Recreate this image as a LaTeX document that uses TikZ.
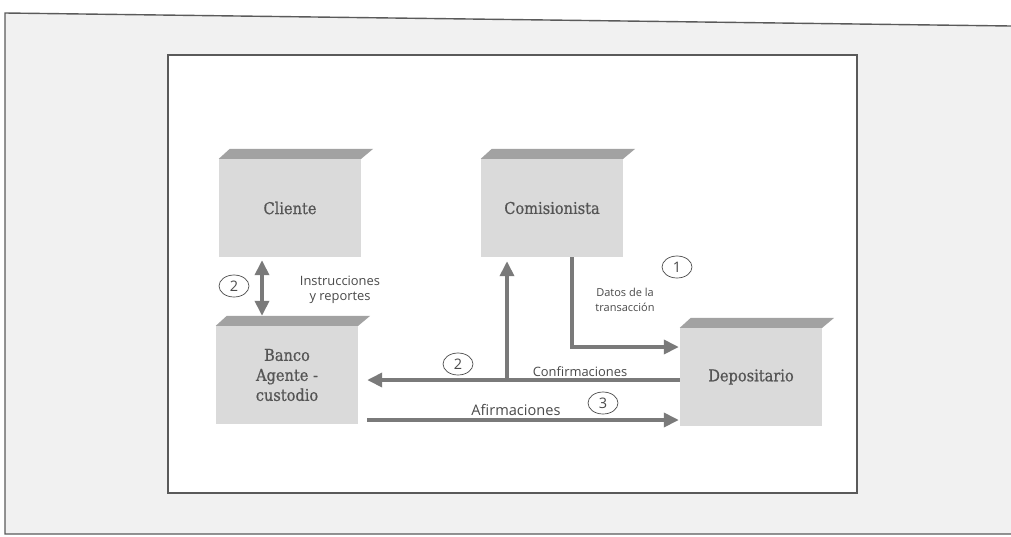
\documentclass[tikz,border=0pt]{standalone}
\usepackage{fontspec}
\setmainfont{Open Sans}
\newfontfamily\boxfont[FakeBold=0.8]{DejaVu Serif Condensed}
\usetikzlibrary{arrows.meta,shapes.geometric,calc}

\definecolor{framecol}{HTML}{5A5A5A}
\definecolor{arrowcol}{HTML}{7A7A7A}
\definecolor{facecol}{HTML}{DADADA}
\definecolor{topcol}{HTML}{A2A2A2}
\definecolor{labelcol}{HTML}{555555}
\definecolor{textcol}{HTML}{4A4A4A}
\definecolor{pagecol}{HTML}{F1F1F1}

\tikzset{
  block/.style={fill=facecol, draw=none, inner sep=0pt,
    minimum width=142pt, minimum height=98pt,
    font=\boxfont\fontsize{16.2}{20}\selectfont, text=labelcol, align=center},
  flow/.style={draw=arrowcol, line width=3.6pt,
    -{Triangle[length=15pt,width=14pt]}},
  twoway/.style={draw=arrowcol, line width=3.6pt,
    {Triangle[length=15pt,width=14pt]}-{Triangle[length=15pt,width=14pt]}},
  note/.style={font=\fontsize{12.9}{15}\selectfont, text=textcol, align=center, inner sep=1pt},
  stepnum/.style={ellipse, draw=textcol, line width=0.7pt, minimum width=30pt,
    minimum height=22pt, inner sep=0pt, font=\fontsize{14.5}{14.5}\selectfont, text=textcol}
}

% raised top face of a block
\newcommand{\blocktop}[1]{%
  \fill[topcol] (#1.north west) -- ++(11,-10) -- ($(#1.north east)+(12,-10)$) -- (#1.north east) -- cycle;}

\begin{document}
\begin{tikzpicture}[x=1pt,y=-1pt]
  \useasboundingbox (0,0) rectangle (1011,536);

  % outer page frame
  \fill[pagecol] (5,13) -- (1011,26) -- (1011,534) -- (5,534) -- cycle;
  \draw[framecol, line width=1.4pt] (1011,26) -- (5,13) -- (5,534) -- (1011,534);

  % inner panel
  \draw[framecol, line width=2pt, fill=white] (168,55) rectangle (857,493);

  % blocks
  \node[block] (cli) at (290,208) {Cliente};
  \node[block] (com) at (552,208) {Comisionista};
  \node[block] (ban) at (287,375) {Banco\\Agente -\\custodio};
  \node[block] (dep) at (751,377) {Depositario};
  \blocktop{cli}
  \blocktop{com}
  \blocktop{ban}
  \blocktop{dep}

  % line heights of the horizontal flows
  \coordinate (yconf) at (0,380);
  \coordinate (yafir) at (0,420);
  \coordinate (ydat) at (0,347);
  \coordinate (junc) at (507,380);

  % Cliente <-> Banco
  \draw[twoway] ([xshift=-28pt,yshift=-3pt]cli.south) -- ([xshift=-25pt,yshift=10pt]ban.north);

  % Comisionista -> Depositario (datos de la transacción)
  \draw[flow] ([xshift=20pt]com.south) |- ([xshift=-1pt]dep.west |- ydat);

  % Depositario -> Banco (confirmaciones), branch up to Comisionista
  \draw[flow] (dep.west |- yconf) -- ([xshift=9pt]ban.east |- yconf);
  \draw[flow] (junc) -- ([yshift=-4pt]com.south -| junc);

  % Banco -> Depositario (afirmaciones)
  \draw[flow] ([xshift=9pt]ban.east |- yafir) -- ([xshift=-1pt]dep.west |- yafir);

  % labels
  \node[stepnum] (n2a) at (234,286) {2};
  \node[note] (tins) at (340,290) {Instrucciones\\y reportes};
  \node[stepnum] (n1) at (677,267) {1};
  \node[note, font=\fontsize{11}{15}\selectfont] (tdat) at (625,300) {Datos de la\\transacción};
  \node[stepnum] (n2b) at (458,364) {2};
  \node[note] (tconf) at (580,372) {Confirmaciones};
  \node[note, font=\fontsize{14.6}{16}\selectfont] (tafir) at (516,410) {Afirmaciones};
  \node[stepnum] (n3) at (603,403) {3};
\end{tikzpicture}
\end{document}
